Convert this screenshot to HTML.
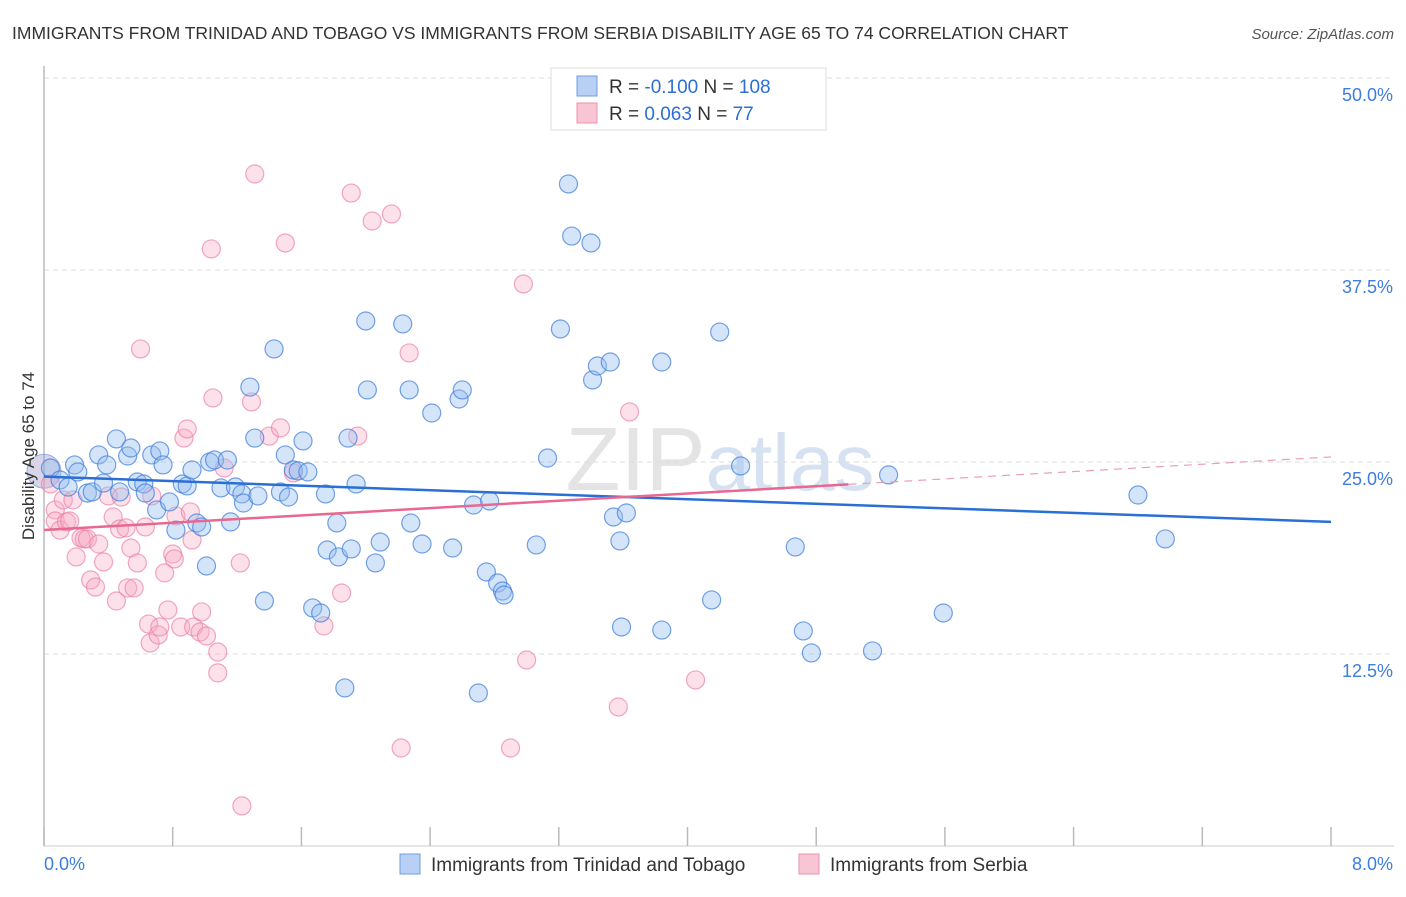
<!DOCTYPE html>
<html><head><meta charset="utf-8"><style>
body{margin:0;background:#fff;font-family:"Liberation Sans",sans-serif;}
svg text{font-family:"Liberation Sans",sans-serif;}
</style></head><body>
<svg id="chart" width="1406" height="892" viewBox="0 0 1406 892" xmlns="http://www.w3.org/2000/svg">
<text x="12" y="39" font-size="17.5" fill="#333">IMMIGRANTS FROM TRINIDAD AND TOBAGO VS IMMIGRANTS FROM SERBIA DISABILITY AGE 65 TO 74 CORRELATION CHART</text>
<text x="1394" y="39" font-size="15" fill="#555" font-style="italic" text-anchor="end">Source: ZipAtlas.com</text>
<text x="720" y="490" font-size="90" fill="#e4e4e4" text-anchor="middle" font-family="Liberation Serif">ZIP<tspan fill="#d6e2f2" font-family="Liberation Sans" font-size="80">atlas</tspan></text>
<g id="grid"></g><g id="axes"></g><g id="pts"></g><g id="lines"></g>
<text transform="translate(34,456) rotate(-90)" font-size="17" fill="#333" text-anchor="middle">Disability Age 65 to 74</text>
<g>
<rect x="551" y="68" width="275" height="62" fill="#fff" stroke="#ddd"/>
<rect x="577" y="76" width="20" height="20" fill="#b8d0f3" stroke="#6f9ee0"/>
<rect x="577" y="103" width="20" height="20" fill="#f8c5d4" stroke="#ee92ae"/>
<text x="609" y="93" font-size="19" fill="#333">R = <tspan fill="#2b6fd6">-0.100</tspan>   N = <tspan fill="#2b6fd6">108</tspan></text>
<text x="609" y="120" font-size="19" fill="#333">R =  <tspan fill="#2b6fd6">0.063</tspan>   N =   <tspan fill="#2b6fd6">77</tspan></text>
</g>
<g>
<rect x="400" y="854" width="20" height="20" fill="#b8d0f3" stroke="#6f9ee0"/>
<text x="431" y="871" font-size="19" fill="#333">Immigrants from Trinidad and Tobago</text>
<rect x="799" y="854" width="20" height="20" fill="#f8c5d4" stroke="#ee92ae"/>
<text x="830" y="871" font-size="19" fill="#333">Immigrants from Serbia</text>
</g>
</svg>
<script>
const xTicks=[0,0.8,1.6,2.4,3.2,4.0,4.8,5.6,6.4,7.2,8.0];
const yTicks=[12.5,25.0,37.5,50.0];
const yTickLabels=["12.5%","25.0%","37.5%","50.0%"];
const xEndLabels=["0.0%","8.0%"];
const blueX=[0.04,0.10,0.15,0.19,0.21,0.27,0.30,0.34,0.37,0.39,0.45,0.47,0.52,0.54,0.58,0.62,0.63,0.67,0.70,0.72,0.74,0.78,0.82,0.86,0.89,0.92,0.95,0.98,1.01,1.03,1.06,1.10,1.14,1.16,1.19,1.23,1.24,1.28,1.31,1.33,1.37,1.43,1.47,1.50,1.52,1.55,1.58,1.61,1.64,1.67,1.72,1.75,1.76,1.82,1.83,1.87,1.89,1.91,1.94,2.00,2.01,2.06,2.09,2.23,2.27,2.28,2.35,2.41,2.54,2.58,2.60,2.67,2.70,2.75,2.77,2.82,2.85,2.86,3.06,3.13,3.21,3.26,3.28,3.40,3.41,3.44,3.52,3.54,3.58,3.59,3.62,3.84,3.84,4.15,4.20,4.33,4.67,4.72,4.77,5.15,5.25,5.59,6.80,6.97];
const blueY=[24.61,23.83,23.37,24.81,24.35,22.98,23.05,25.46,23.63,24.81,26.50,23.05,25.39,25.91,23.70,23.57,22.98,25.46,21.88,25.72,24.81,22.40,20.57,23.57,23.44,24.48,21.03,20.77,18.23,25.00,25.13,23.31,25.13,21.10,23.37,22.92,22.33,29.88,26.56,22.79,15.95,32.36,23.05,25.46,22.72,24.48,24.42,26.37,24.35,15.50,15.17,22.92,19.27,21.03,18.82,10.29,26.56,19.34,23.57,34.18,29.69,18.43,19.79,33.99,29.69,21.03,19.66,28.19,19.40,29.10,29.69,22.20,9.96,17.84,22.46,17.12,16.60,16.34,19.60,25.26,33.66,43.10,39.71,39.26,30.34,31.25,31.51,21.42,19.86,14.26,21.68,31.51,14.06,16.02,33.46,24.74,19.47,14.00,12.57,12.70,24.16,15.17,22.85,19.99];
const pinkX=[0.04,0.07,0.07,0.10,0.12,0.14,0.16,0.18,0.20,0.23,0.25,0.27,0.29,0.32,0.34,0.37,0.40,0.43,0.45,0.47,0.48,0.51,0.52,0.54,0.56,0.58,0.60,0.63,0.65,0.66,0.67,0.71,0.72,0.75,0.77,0.80,0.81,0.82,0.85,0.87,0.89,0.91,0.92,0.93,0.97,0.98,1.01,1.04,1.05,1.08,1.08,1.12,1.22,1.23,1.29,1.31,1.40,1.47,1.50,1.55,1.74,1.85,1.91,1.95,2.04,2.16,2.22,2.27,2.90,2.98,3.00,3.57,3.64,4.05];
const pinkY=[23.57,21.88,21.16,20.57,22.53,21.10,21.16,22.53,18.82,20.05,19.99,19.99,17.32,16.86,19.66,18.49,22.79,21.42,15.95,20.64,22.72,20.71,16.80,19.40,16.80,18.43,32.36,20.77,14.45,13.22,22.79,13.74,14.26,17.78,15.37,19.01,18.69,21.49,14.26,26.56,27.15,21.75,19.92,14.26,13.93,15.24,13.67,38.87,29.17,12.63,11.27,24.61,18.43,2.61,28.91,43.75,26.69,27.22,39.26,24.29,14.33,16.47,42.51,26.69,40.69,41.15,6.38,32.10,6.38,36.59,12.11,9.05,28.26,10.81];
const bigPoint=[0.0,24.4];
const blueTrend=[24.05,21.1];   // y at x=0 and x=8
const pinkTrend=[20.57,25.33];  // y at x=0 and x=8
const pinkSolidEnd=5.0;

const NS="http://www.w3.org/2000/svg";
const X0=44,X1=1331,Y0=846,Y50=78;
function sx(v){return X0+v/8*(X1-X0);}
function sy(v){return Y0-v/50*(Y0-Y50);}
function mk(tag,attrs,parent){const e=document.createElementNS(NS,tag);for(const k in attrs)e.setAttribute(k,attrs[k]);parent.appendChild(e);return e;}
const grid=document.getElementById('grid'),axes=document.getElementById('axes'),pts=document.getElementById('pts'),lines=document.getElementById('lines');
yTicks.forEach((t,i)=>{
  const g=mk('line',{x1:X0,x2:1394,y1:sy(t),y2:sy(t),stroke:'#ddd','stroke-dasharray':'5,4'},grid);
  
  
  const l=mk('text',{x:1393,y:sy(t)+23,'font-size':18,fill:'#3d7ddb','text-anchor':'end'},axes);
  l.textContent=yTickLabels[i];
  
  
});
const ya=mk('line',{x1:X0,x2:X0,y1:66,y2:Y0,stroke:'#bbb','stroke-width':1.5},axes);


const xa=mk('line',{x1:X0,x2:1394,y1:Y0,y2:Y0,stroke:'#ccc'},axes);


xTicks.forEach(t=>{
  const tk=mk('line',{x1:sx(t),x2:sx(t),y1:Y0,y2:Y0-19,stroke:'#bbb','stroke-width':1.5},axes);
  
  
});
[[0,'start',44],[8,'end',1393]].forEach((d,i)=>{
  const l=mk('text',{x:d[2],y:870,'font-size':18,fill:'#3d7ddb','text-anchor':d[1]},axes);
  l.textContent=xEndLabels[i];
  
  
});
const bp=mk('circle',{cx:sx(bigPoint[0]),cy:sy(bigPoint[1]),r:17,fill:'rgba(160,150,200,0.4)',stroke:'rgba(110,150,220,0.7)'},pts);


pinkX.forEach((x,i)=>{
  const c=mk('circle',{cx:sx(x),cy:sy(pinkY[i]),r:9,fill:'rgba(246,170,195,0.35)',stroke:'rgba(236,130,165,0.7)','stroke-width':1.2},pts);
  
  
});
blueX.forEach((x,i)=>{
  const c=mk('circle',{cx:sx(x),cy:sy(blueY[i]),r:9,fill:'rgba(150,190,240,0.4)',stroke:'rgba(70,130,220,0.75)','stroke-width':1.2},pts);
  
  
});
const bl=mk('line',{x1:sx(0),y1:sy(blueTrend[0]),x2:sx(8),y2:sy(blueTrend[1]),stroke:'#2a6fd6','stroke-width':2.5},lines);


const pMid=pinkTrend[0]+(pinkTrend[1]-pinkTrend[0])*pinkSolidEnd/8;
const pl=mk('line',{x1:sx(0),y1:sy(pinkTrend[0]),x2:sx(pinkSolidEnd),y2:sy(pMid),stroke:'#e8688f','stroke-width':2.5},lines);


const pd=mk('line',{x1:sx(pinkSolidEnd),y1:sy(pMid),x2:sx(8),y2:sy(pinkTrend[1]),stroke:'#e8a0b5','stroke-width':1.2,'stroke-dasharray':'8,6'},lines);


</script>
</body></html>
